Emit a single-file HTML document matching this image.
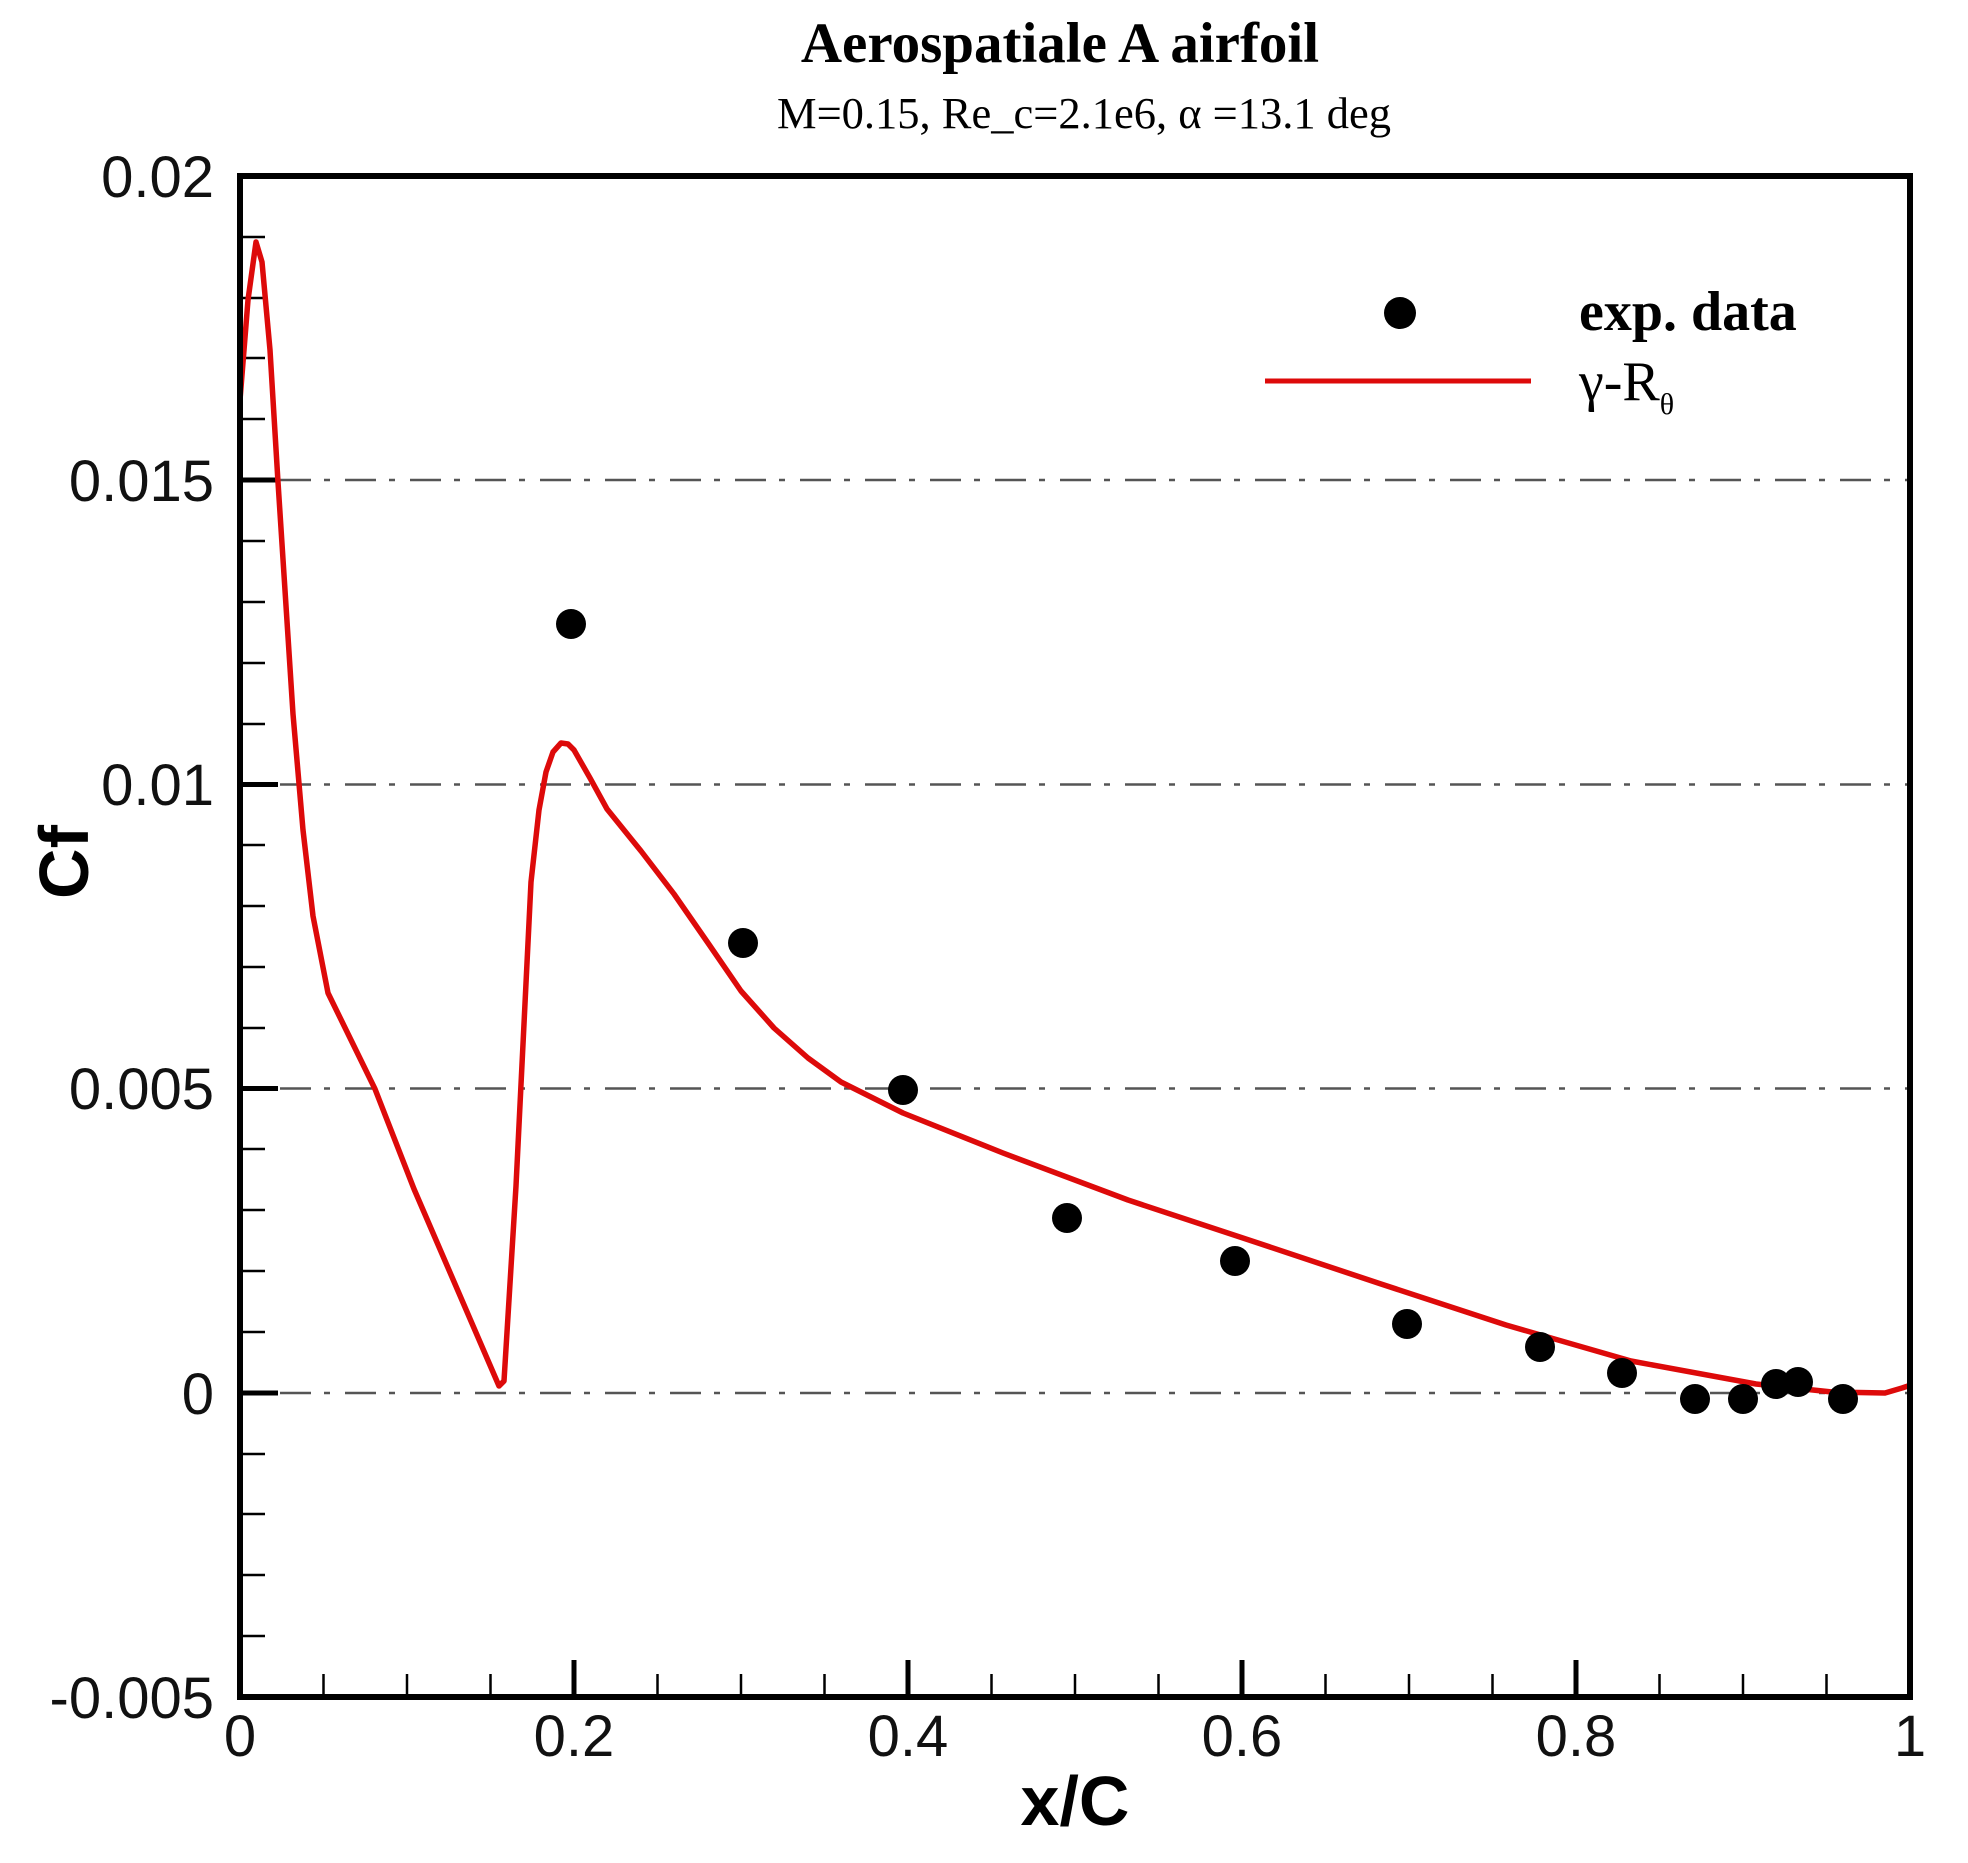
<!DOCTYPE html>
<html><head><meta charset="utf-8"><style>html,body{margin:0;padding:0;background:#fff}svg{display:block}</style></head>
<body>
<svg width="1968" height="1863" viewBox="0 0 1968 1863" xmlns="http://www.w3.org/2000/svg">
<rect width="1968" height="1863" fill="#fff"/>
<text x="1060" y="62" font-family="Liberation Serif, serif" font-weight="bold" font-size="57" text-anchor="middle">Aerospatiale A airfoil</text>
<text x="1084" y="128" font-family="Liberation Serif, serif" font-size="44" text-anchor="middle" textLength="614" lengthAdjust="spacingAndGlyphs">M=0.15, Re_c=2.1e6, α =13.1 deg</text>
<g stroke="#555" stroke-width="2.5" stroke-dasharray="31 13 6 15" fill="none">
<line x1="280" y1="480" x2="1908" y2="480"/>
<line x1="280" y1="784.5" x2="1908" y2="784.5"/>
<line x1="280" y1="1088.5" x2="1908" y2="1088.5"/>
<line x1="280" y1="1393" x2="1908" y2="1393"/>
</g>
<g stroke="#000" stroke-width="2.5">
<line x1="240" y1="237" x2="265" y2="237"/><line x1="240" y1="298" x2="265" y2="298"/><line x1="240" y1="358" x2="265" y2="358"/><line x1="240" y1="419" x2="265" y2="419"/>
<line x1="240" y1="541" x2="265" y2="541"/><line x1="240" y1="602" x2="265" y2="602"/><line x1="240" y1="663" x2="265" y2="663"/><line x1="240" y1="724" x2="265" y2="724"/>
<line x1="240" y1="845" x2="265" y2="845"/><line x1="240" y1="906" x2="265" y2="906"/><line x1="240" y1="967" x2="265" y2="967"/><line x1="240" y1="1028" x2="265" y2="1028"/>
<line x1="240" y1="1149" x2="265" y2="1149"/><line x1="240" y1="1210" x2="265" y2="1210"/><line x1="240" y1="1271" x2="265" y2="1271"/><line x1="240" y1="1332" x2="265" y2="1332"/>
<line x1="240" y1="1454" x2="265" y2="1454"/><line x1="240" y1="1514" x2="265" y2="1514"/><line x1="240" y1="1575" x2="265" y2="1575"/><line x1="240" y1="1636" x2="265" y2="1636"/>
</g>
<g stroke="#000" stroke-width="5">
<line x1="240" y1="480" x2="278" y2="480"/><line x1="240" y1="784.5" x2="278" y2="784.5"/><line x1="240" y1="1088.5" x2="278" y2="1088.5"/><line x1="240" y1="1393" x2="278" y2="1393"/>
<line x1="574" y1="1697" x2="574" y2="1660"/><line x1="908" y1="1697" x2="908" y2="1660"/><line x1="1242" y1="1697" x2="1242" y2="1660"/><line x1="1576" y1="1697" x2="1576" y2="1660"/>
</g>
<g stroke="#000" stroke-width="2.5">
<line x1="323.5" y1="1697" x2="323.5" y2="1674"/><line x1="407" y1="1697" x2="407" y2="1674"/><line x1="490.5" y1="1697" x2="490.5" y2="1674"/>
<line x1="657.5" y1="1697" x2="657.5" y2="1674"/><line x1="741" y1="1697" x2="741" y2="1674"/><line x1="824.5" y1="1697" x2="824.5" y2="1674"/>
<line x1="991.5" y1="1697" x2="991.5" y2="1674"/><line x1="1075" y1="1697" x2="1075" y2="1674"/><line x1="1158.5" y1="1697" x2="1158.5" y2="1674"/>
<line x1="1325.5" y1="1697" x2="1325.5" y2="1674"/><line x1="1409" y1="1697" x2="1409" y2="1674"/><line x1="1492.5" y1="1697" x2="1492.5" y2="1674"/>
<line x1="1659.5" y1="1697" x2="1659.5" y2="1674"/><line x1="1743" y1="1697" x2="1743" y2="1674"/><line x1="1826.5" y1="1697" x2="1826.5" y2="1674"/>
</g>
<polyline fill="none" stroke="#dd0a0a" stroke-width="5.5" stroke-linejoin="round" points="240,400 248,300 256,242 262,262 270,350 278,482 293,714 303,830 313,916 328,993 375,1089 414,1189 499,1386 504,1381 516,1186 531,882 539,810 546,772 553,752 561,743 568,744 574,750 590,778 607,809 641,851 674,894 708,943 741,991 774,1028 808,1058 841,1082 903,1113 1003,1153 1128,1200 1255,1242 1381,1284 1506,1325 1631,1361 1756,1384 1832,1392 1885,1393 1902,1388 1908,1386"/>
<g fill="#000">
<circle cx="571" cy="624" r="15"/><circle cx="743" cy="943" r="15"/><circle cx="903" cy="1090" r="15"/><circle cx="1067" cy="1218" r="15"/>
<circle cx="1235" cy="1261" r="15"/><circle cx="1407" cy="1324" r="15"/><circle cx="1540" cy="1347" r="15"/><circle cx="1622" cy="1373" r="15"/>
<circle cx="1695" cy="1399" r="15"/><circle cx="1743" cy="1399" r="15"/><circle cx="1776" cy="1384" r="15"/><circle cx="1798" cy="1382" r="15"/><circle cx="1843" cy="1399" r="15"/>
</g>
<rect x="240" y="176" width="1670" height="1521" fill="none" stroke="#000" stroke-width="6"/>
<g font-family="Liberation Sans, sans-serif" font-size="58" text-anchor="end" fill="#111">
<text x="214" y="197">0.02</text><text x="214" y="501">0.015</text><text x="214" y="805">0.01</text><text x="214" y="1109">0.005</text><text x="214" y="1414">0</text><text x="214" y="1718">-0.005</text>
</g>
<g font-family="Liberation Sans, sans-serif" font-size="58" text-anchor="middle" fill="#111">
<text x="240" y="1756">0</text><text x="574" y="1756">0.2</text><text x="908" y="1756">0.4</text><text x="1242" y="1756">0.6</text><text x="1576" y="1756">0.8</text><text x="1910" y="1756">1</text>
</g>
<text x="1075" y="1825" font-family="Liberation Sans, sans-serif" font-weight="bold" font-size="70" text-anchor="middle">x/C</text>
<text transform="translate(88,862) rotate(-90)" font-family="Liberation Sans, sans-serif" font-weight="bold" font-size="70" text-anchor="middle">Cf</text>
<circle cx="1400" cy="313" r="16" fill="#000"/>
<line x1="1265" y1="381" x2="1531" y2="381" stroke="#dd0a0a" stroke-width="5"/>
<text x="1579" y="330" font-family="Liberation Serif, serif" font-weight="bold" font-size="56">exp. data</text>
<text x="1579" y="400" font-family="Liberation Serif, serif" font-size="56">γ-R<tspan font-size="30" dy="14">θ</tspan></text>
</svg>
</body></html>
